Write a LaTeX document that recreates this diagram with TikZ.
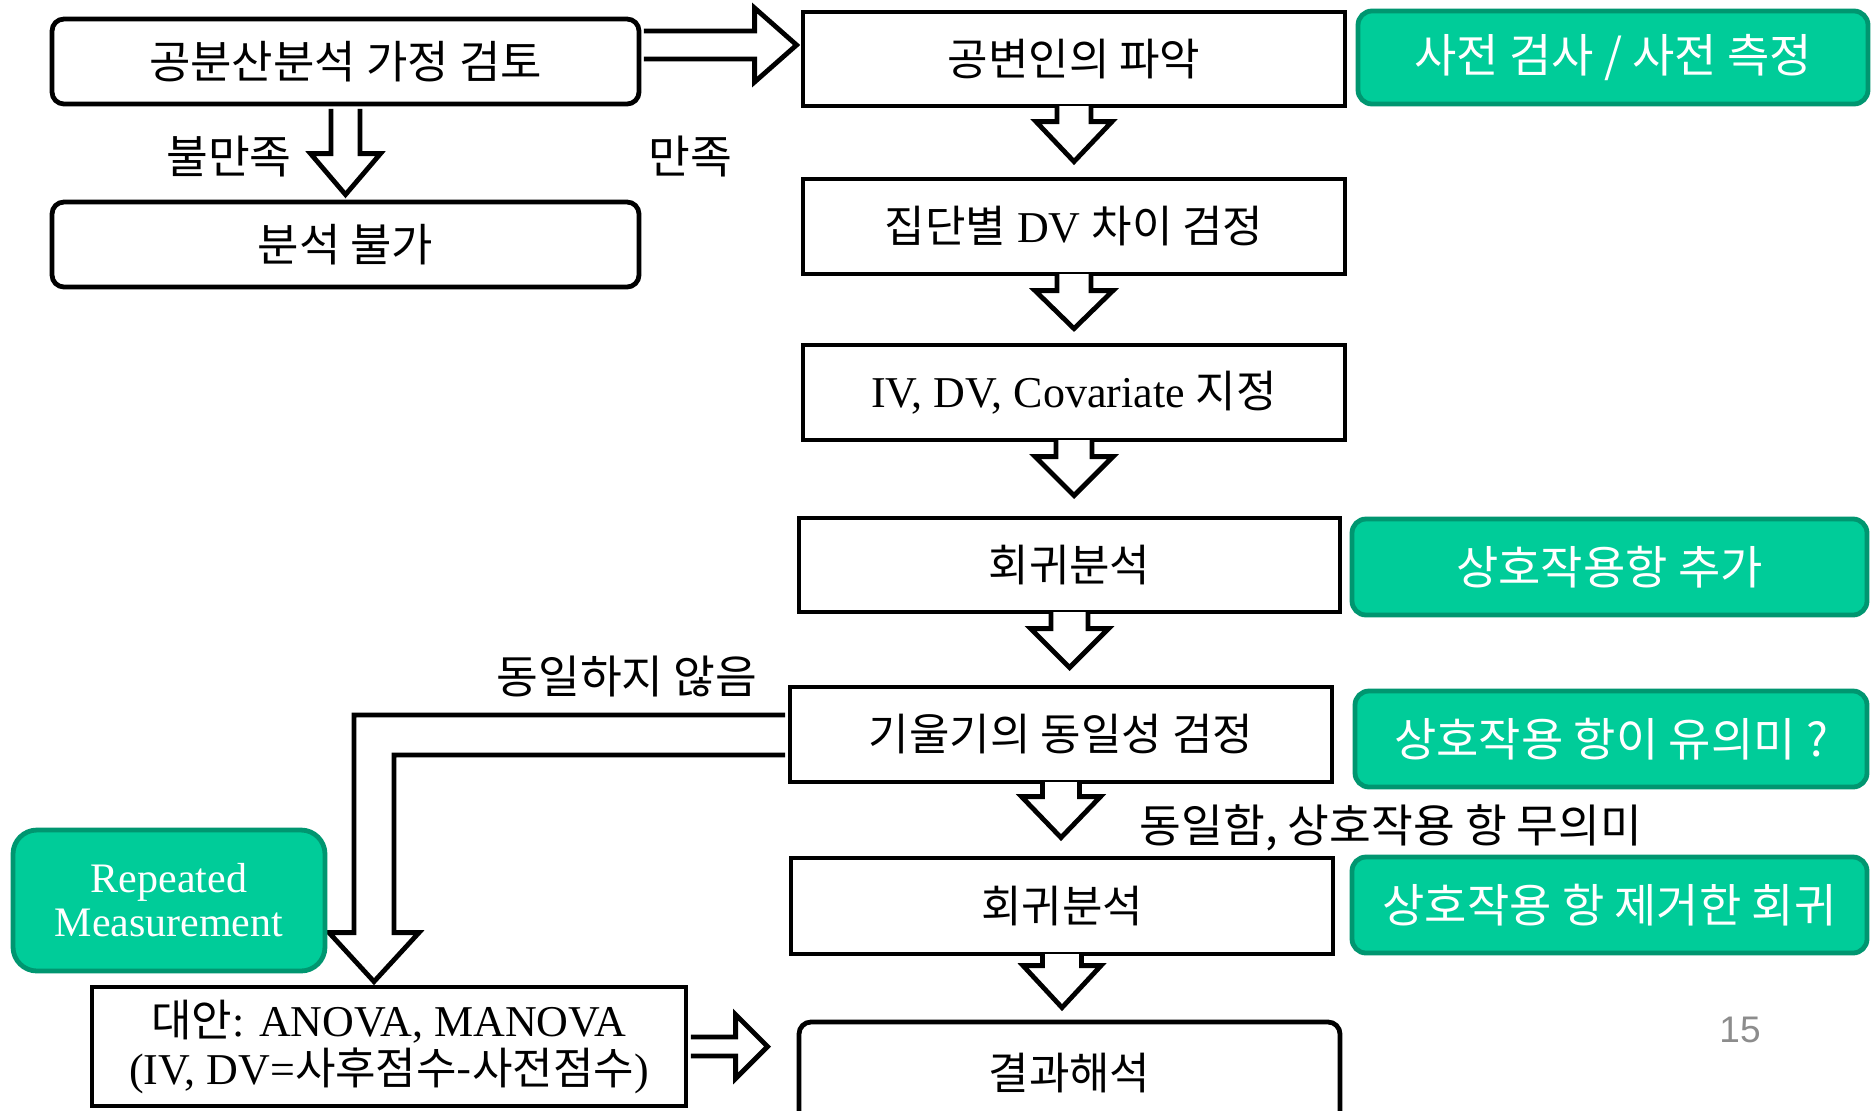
\documentclass[tikz,border=0pt]{standalone}
\usepackage{fontspec}
\setmainfont{Liberation Serif}
\newfontfamily\kr{Noto Sans CJK KR}
\newfontfamily\numfont{Liberation Sans}
\usetikzlibrary{calc}
\definecolor{grn}{RGB}{0,204,153}
\definecolor{grnedge}{RGB}{0,150,112}
\definecolor{pagegray}{RGB}{140,140,140}
\tikzset{
 blackbox/.style={draw=black, line width=2.4pt, fill=white, inner sep=0pt, align=center, font=\fontsize{22}{24}\selectfont},
 roundbox/.style={blackbox, rounded corners=6pt},
 greenbox/.style={draw=grnedge, fill=grn, line width=2.4pt, rounded corners=7pt, inner sep=0pt, align=center, text=white, font=\kr\fontsize{23}{25}\selectfont},
 fat/.style={draw=black, fill=white, line width=2.4pt, line join=miter},
 lbl/.style={inner sep=0pt, font=\kr\fontsize{22.7}{24}\selectfont},
}
% chain arrow: #1 source, #2 target, #3 shaft half, #4 head half, #5 head length, #6 gap, #7 start offset
\newcommand\fatdown[7]{%
 \draw[fat] let \p1=(#1.south), \p2=(#2.north) in
  (\x1-#3, \y1+#7) -- (\x1-#3, \y2+#6+#5) -- (\x1-#4, \y2+#6+#5) -- (\x1, \y2+#6)
  -- (\x1+#4, \y2+#6+#5) -- (\x1+#3, \y2+#6+#5) -- (\x1+#3, \y1+#7);}
\begin{document}
\begin{tikzpicture}[x=0.5pt,y=-0.5pt]
\useasboundingbox (0,0) rectangle (1874,1110);
\clip (0,0) rectangle (1874,1110);
\fill[white] (0,0) rectangle (1874,1110);

% left column
\node[roundbox, minimum width=293.5pt, minimum height=42.5pt] (A) at (345.5,61.5) {\kr\fontsize{22.5}{24}\selectfont 공분산분석 가정 검토};
\node[roundbox, minimum width=293.5pt, minimum height=42.5pt] (B) at (345.5,244.5) {\kr\fontsize{22.5}{24}\selectfont 분석 불가};

% main column
\node[blackbox, minimum width=271pt, minimum height=47pt] (C) at (1074,59) {\kr 공변인의 파악};
\node[blackbox, minimum width=271pt, minimum height=47.5pt] (D) at (1074,226.5) {{\kr 집단별} DV {\kr 차이 검정}};
\node[blackbox, minimum width=271pt, minimum height=47.5pt] (E) at (1074,392.5) {IV, DV, Covariate {\kr 지정}};
\node[blackbox, minimum width=270.5pt, minimum height=47pt] (F) at (1069.5,565) {\kr 회귀분석};
\node[blackbox, minimum width=271pt, minimum height=47.5pt] (G) at (1061,734.5) {\kr 기울기의 동일성 검정};
\node[blackbox, minimum width=271pt, minimum height=48pt] (H) at (1062,906) {\kr 회귀분석};
\node[roundbox, minimum width=270.5pt, minimum height=51pt] (I) at (1069.5,1073) {\kr 결과해석};
\node[blackbox, minimum width=297pt, minimum height=59.5pt] (J) at (389,1046.5)
 {{\kr 대안}: ANOVA, MANOVA\\(IV, DV={\kr 사후점수-사전점수})};

% green notes
\node[greenbox, minimum width=255pt, minimum height=46.5pt] (N1) at (1613,57.5) {사전 검사 / 사전 측정};
\node[greenbox, minimum width=257.5pt, minimum height=48pt] (N2) at (1609.5,567) {상호작용항 추가};
\node[greenbox, minimum width=256pt, minimum height=48pt] (N3) at (1611,739) {상호작용 항이 유의미 ?};
\node[greenbox, minimum width=257.5pt, minimum height=48pt] (N4) at (1609.5,905) {상호작용 항 제거한 회귀};

% fat arrows
\fatdown{A}{B}{7.25pt}{17.5pt}{20.5pt}{2.5pt}{-1.2pt}
\fatdown{C}{D}{8.5pt}{19pt}{20pt}{7.5pt}{1.2pt}
\fatdown{D}{E}{8.5pt}{19.5pt}{19pt}{7pt}{1.2pt}
\fatdown{E}{F}{9pt}{19.5pt}{19.5pt}{10pt}{1.2pt}
\fatdown{F}{G}{9.25pt}{19.5pt}{19.5pt}{8.5pt}{1.2pt}
\fatdown{G}{H}{9.25pt}{19.75pt}{20.5pt}{9pt}{1.2pt}
\fatdown{H}{I}{9.75pt}{19.5pt}{21pt}{6pt}{1.2pt}

% A -> C (satisfied)
\draw[fat] let \p1=(A.east), \p2=(C.west) in
 (\x1+1.2pt, \y1+15.25pt) -- (\x2-23pt, \y1+15.25pt) -- (\x2-23pt, \y1+26.75pt)
 -- (\x2-2pt, \y1+8.25pt) -- (\x2-23pt, \y1-10.25pt) -- (\x2-23pt, \y1+1.25pt) -- (\x1+1.2pt, \y1+1.25pt);

% J -> I
\draw[fat] let \p1=(J.east), \p2=(I.west) in
 (\x1+1.2pt, \y1+4.75pt) -- (\x2-30.5pt, \y1+4.75pt) -- (\x2-30.5pt, \y1+16pt)
 -- (\x2-14.5pt, \y1) -- (\x2-30.5pt, \y1-16pt) -- (\x2-30.5pt, \y1-4.75pt) -- (\x1+1.2pt, \y1-4.75pt);

% G -> J (not equal)
\draw[fat] let \p1=(G.west), \p2=(J.north) in
 (\x1-1.2pt, \y1+9.75pt) -- (\x2-17.5pt, \y1+9.75pt) -- (\x2-17.5pt, \y2+26pt)
 -- (\x2-30pt, \y2+26pt) -- (\x2-7.5pt, \y2+1.5pt) -- (\x2+15pt, \y2+26pt)
 -- (\x2+2.5pt, \y2+26pt) -- (\x2+2.5pt, \y1-10.25pt) -- (\x1-1.2pt, \y1-10.25pt);

\node[greenbox, rounded corners=12pt, minimum width=156pt, minimum height=70.5pt, font=\fontsize{21}{22}\selectfont] (N5) at (169,900.5) {Repeated\\Measurement};

% labels
\node[lbl] (L1) at (229,156) {불만족};
\node[lbl] (L2) at (690,156) {만족};
\node[lbl] (L3) at (627,676) {동일하지 않음};
\node[lbl] (L4) at (1391,828) {동일함, 상호작용 항 무의미};
\node[inner sep=0pt, text=pagegray, font=\numfont\fontsize{18.5}{20}\selectfont] (PG) at (1740,1030) {15};
\end{tikzpicture}
\end{document}
